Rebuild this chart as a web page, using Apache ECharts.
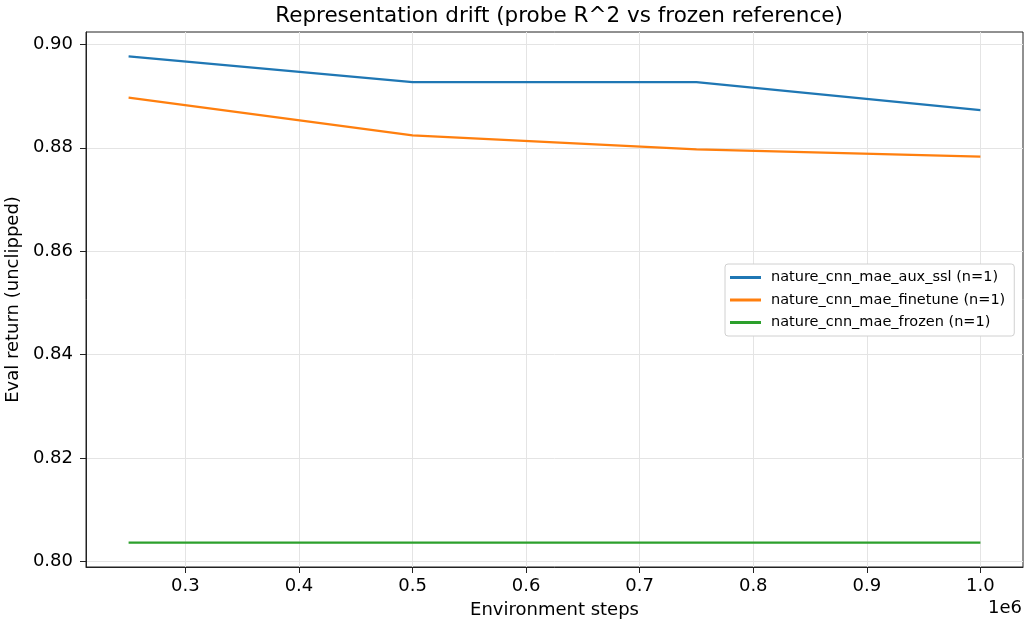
<!DOCTYPE html>
<html>
<head>
<meta charset="utf-8">
<script src="https://cdn.jsdelivr.net/npm/echarts@6/dist/echarts.min.js"></script>
<style>
  html, body { margin: 0; padding: 0; background: #fff; }
  #chart { width: 1026px; height: 622px; }
</style>
</head>
<body>
<div id="chart"></div>
<script>
// data
const steps = [250000, 500000, 750000, 1000000];
const auxSsl = [0.8977, 0.8927, 0.8927, 0.8873];
const finetune = [0.8897, 0.8824, 0.8797, 0.8783];
const frozen = [0.8036, 0.8036, 0.8036, 0.8036];
const xTicks = [300000, 400000, 500000, 600000, 700000, 800000, 900000, 1000000];
const yTicks = [0.80, 0.82, 0.84, 0.86, 0.88, 0.90];

const seriesNames = [
  "nature_cnn_mae_aux_ssl (n=1)",
  "nature_cnn_mae_finetune (n=1)",
  "nature_cnn_mae_frozen (n=1)"
];
const colors = ["#1f77b4", "#ff7f0e", "#2ca02c"];
const values = [auxSsl, finetune, frozen];

const font = "DejaVu Sans";
const chart = echarts.init(document.getElementById("chart"));

const option = {
  animation: false,
  backgroundColor: "#fff",
  textStyle: { fontFamily: font },
  title: {
    text: "Representation drift (probe R^2 vs frozen reference)",
    left: 554, top: 0, textAlign: "center",
    textStyle: { fontFamily: font, fontSize: 21.5, fontWeight: "normal", color: "#000" }
  },
  grid: {
    left: 86, top: 32, right: 3, bottom: 55,
    outerBoundsMode: "none", containLabel: false,
    show: true, borderColor: "#222", borderWidth: 1, backgroundColor: "transparent"
  },
  legend: {
    orient: "vertical",
    left: 725, top: 264,
    padding: [6, 9, 6, 5],
    backgroundColor: "#fff",
    borderColor: "#d0d0d0", borderWidth: 1, borderRadius: 3,
    itemWidth: 31, itemHeight: 3, itemGap: 7.5,
    icon: "rect",
    textStyle: { fontFamily: font, fontSize: 14.5, color: "#000", padding: [0, 0, 0, 5] },
    data: seriesNames
  },
  xAxis: {
    type: "value",
    min: 212500, max: 1037500,
    name: "Environment steps",
    nameLocation: "middle", nameGap: 34,
    nameTextStyle: { fontFamily: font, fontSize: 18, color: "#000" },
    axisLine: { show: true, lineStyle: { color: "#222", width: 1 } },
    axisTick: { show: true, length: 6, lineStyle: { color: "#222" }, customValues: xTicks },
    axisLabel: {
      customValues: xTicks, margin: 10,
      fontFamily: font, fontSize: 18, color: "#000",
      formatter: v => (v / 1e6).toFixed(1)
    },
    splitLine: { show: true, lineStyle: { color: "#e4e4e4", width: 1 } }
  },
  yAxis: {
    type: "value",
    min: 0.7989, max: 0.9024,
    name: "Eval return (unclipped)",
    nameLocation: "middle", nameGap: 60, nameRotate: 90,
    nameTextStyle: { fontFamily: font, fontSize: 18, color: "#000" },
    axisLine: { show: true, lineStyle: { color: "#222", width: 1 } },
    axisTick: { show: true, length: 6, lineStyle: { color: "#222" }, customValues: yTicks },
    axisLabel: {
      customValues: yTicks, margin: 13,
      fontFamily: font, fontSize: 18, color: "#000",
      formatter: v => v.toFixed(2)
    },
    splitLine: { show: true, lineStyle: { color: "#e4e4e4", width: 1 } }
  },
  graphic: [{
    type: "text", right: 4, top: 599,
    style: { text: "1e6", font: "18px " + font, fill: "#000" }
  }],
  series: seriesNames.map((name, i) => ({
    name,
    type: "line",
    data: steps.map((s, j) => [s, values[i][j]]),
    showSymbol: false,
    symbol: "none",
    color: colors[i],
    lineStyle: { color: colors[i], width: 2.2 },
    z: 3 + i
  }))
};

chart.setOption(option);
</script>
</body>
</html>
